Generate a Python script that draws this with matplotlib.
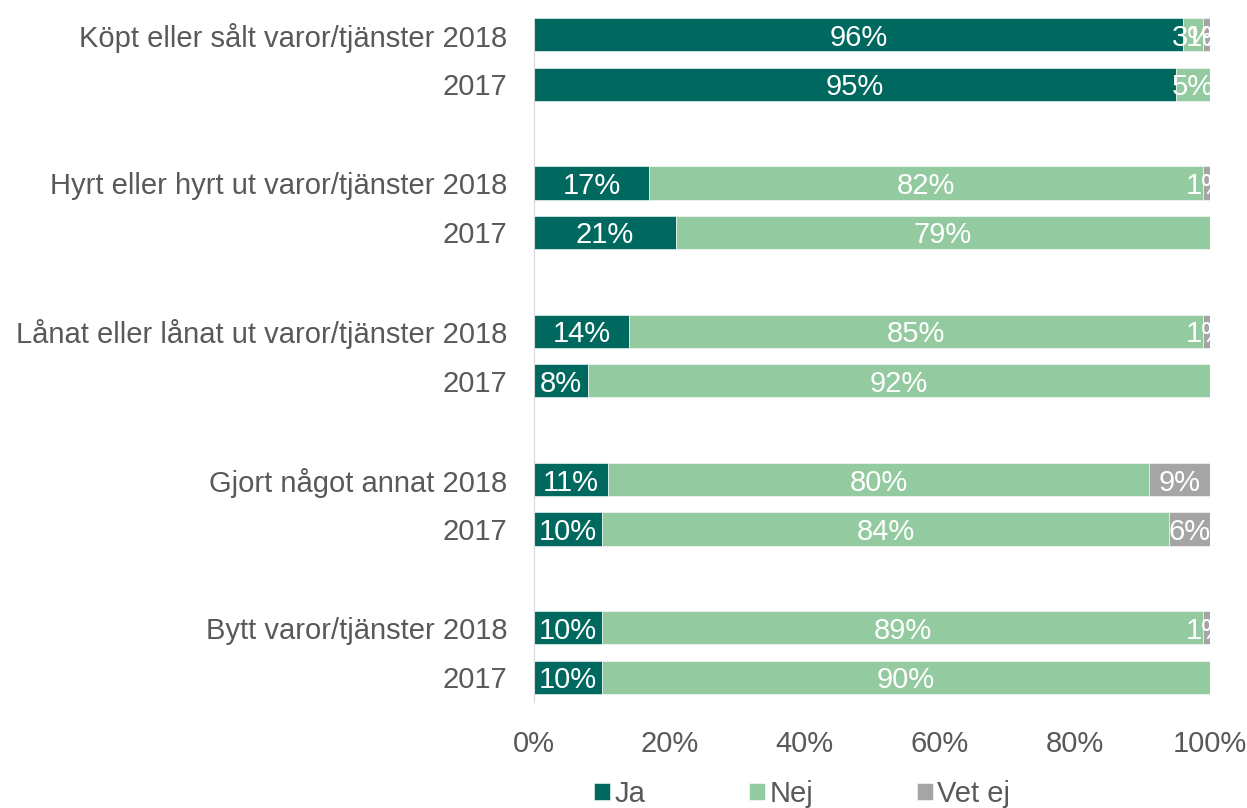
import matplotlib.pyplot as plt
import numpy as np

plt.rcParams["font.family"] = ["Liberation Sans", "DejaVu Sans"]

# data, top to bottom
labels = [
    "Köpt eller sålt varor/tjänster 2018", "2017",
    "Hyrt eller hyrt ut varor/tjänster 2018", "2017",
    "Lånat eller lånat ut varor/tjänster 2018", "2017",
    "Gjort något annat 2018", "2017",
    "Bytt varor/tjänster 2018", "2017",
]
ja = [96, 95, 17, 21, 14, 8, 11, 10, 10, 10]
nej = [3, 5, 82, 79, 85, 92, 80, 84, 89, 90]
vet_ej = [1, 0.3, 1, 0, 1, 0, 9, 6, 1, 0.3]
series_names = ["Ja", "Nej", "Vet ej"]
colors = ["#00695F", "#94CA9F", "#A5A5A5"]

# slot positions: pairs with a blank slot between groups
slots = []
for g in range(5):
    slots += [g * 3, g * 3 + 1]
slots = np.array(slots)

fig = plt.figure(figsize=(12.47, 8.08), dpi=100)
ax = fig.add_axes([534 / 1247, 1 - 702 / 808, 676 / 1247, 692 / 808])

left = np.zeros(len(labels))
for vals, name, col in zip([ja, nej, vet_ej], series_names, colors):
    vals = np.array(vals, dtype=float)
    ax.barh(slots, vals, left=left, height=0.67, color=col, label=name,
            edgecolor="white", linewidth=0.4)
    for y, l, v in zip(slots, left, vals):
        if v >= 1:
            ax.text(l + v / 2, y, f"{v:.0f}%", ha="center", va="center_baseline",
                    color="white", fontsize=21, clip_on=True)
    left += vals

ax.set_xlim(0, 100)
ax.set_ylim(13.5, -0.5)
ax.set_yticks(slots)
ax.set_yticklabels(labels)
ax.set_xticks([0, 20, 40, 60, 80, 100])
ax.set_xticklabels([f"{t}%" for t in [0, 20, 40, 60, 80, 100]])
ax.tick_params(axis="both", length=0, labelsize=21, labelcolor="#595959")
ax.tick_params(axis="y", pad=19)
ax.tick_params(axis="x", pad=20)

for s in ["top", "right", "bottom"]:
    ax.spines[s].set_visible(False)
ax.spines["left"].set_color("#D9D9D9")
ax.spines["left"].set_bounds(-0.15, 13.5)

fig.legend(loc="center", bbox_to_anchor=(802 / 1247, 1 - 794 / 808), ncol=3,
           frameon=False, fontsize=21, handlelength=0.55, handleheight=0.55,
           handletextpad=0.15, columnspacing=3.55, labelcolor="#595959")

plt.savefig("out.png", dpi=100)
